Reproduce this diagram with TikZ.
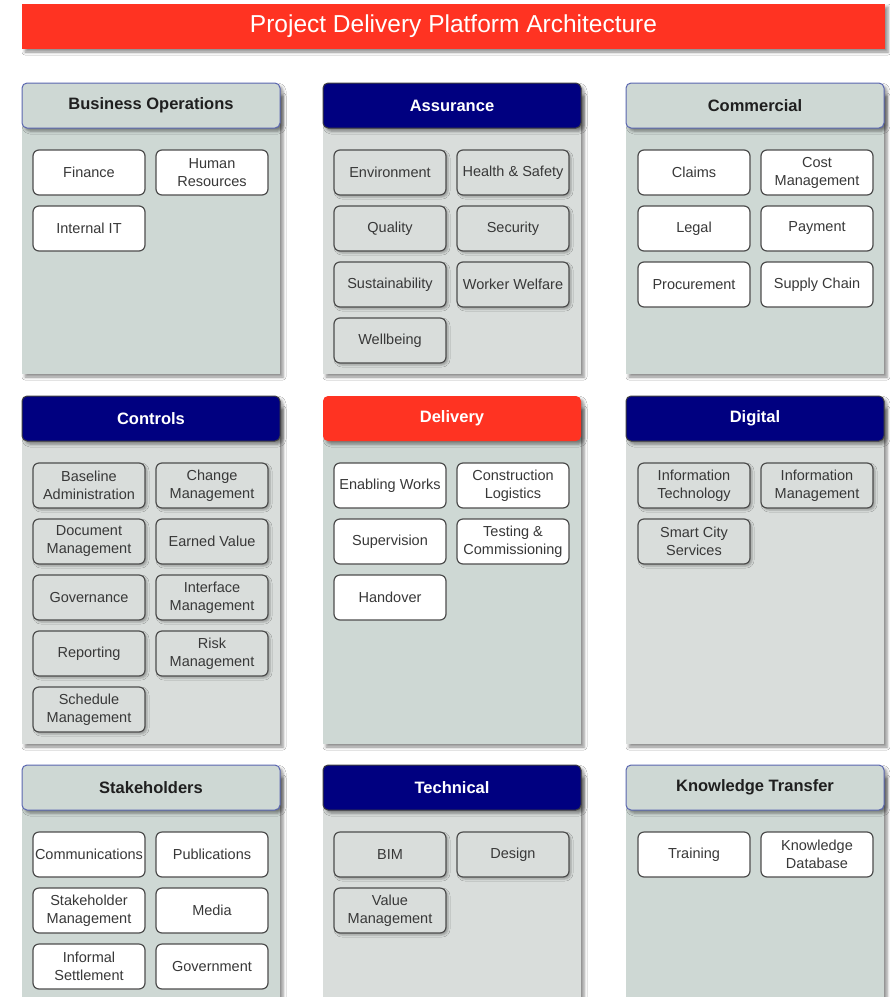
\documentclass[tikz,border=0pt]{standalone}
\usepackage{fontspec}
\setmainfont{Liberation Sans}
\usetikzlibrary{shadows.blur}
\definecolor{titlered}{HTML}{FF3322}
\definecolor{navyhdr}{HTML}{000080}
\definecolor{lightbody}{HTML}{CED8D4}
\definecolor{graybody}{HTML}{D9DDDB}
\definecolor{hdrborder}{HTML}{5A66B0}
\definecolor{boxline}{HTML}{4D4D4D}
\definecolor{boxtext}{HTML}{383838}
\tikzset{
  shd/.style={blur shadow={shadow xshift=3pt,shadow yshift=-3pt,shadow blur radius=3pt,shadow opacity=45}},
  shdsmall/.style={blur shadow={shadow xshift=2pt,shadow yshift=-2pt,shadow blur radius=2pt,shadow opacity=30}},
  titlebar/.style={fill=titlered,text=white,shd,minimum width=863pt,minimum height=45pt,inner sep=0pt,font=\fontsize{24.5}{29}\selectfont},
  hdr/.style={minimum width=258pt,minimum height=45pt,inner sep=0pt,rounded corners=5pt,font=\bfseries\fontsize{16.5}{19}\selectfont,shd},
  hdrlight/.style={hdr,fill=lightbody,draw=hdrborder,line width=1pt,text=black!88},
  hdrnavy/.style={hdr,fill=navyhdr,draw=black!75,line width=1pt,text=white},
  hdrred/.style={hdr,fill=titlered,text=white},
  bodylight/.style={fill=lightbody,shd},
  bodygray/.style={fill=graybody,shd},
  cellbox/.style={minimum width=112pt,minimum height=45pt,inner sep=0pt,rounded corners=6pt,draw=boxline,line width=1.2pt,align=center,font=\fontsize{14.5}{18}\selectfont,text=boxtext},
  whitebox/.style={cellbox,fill=white},
  graybox/.style={cellbox,fill=graybody,shdsmall},
}
\newcommand\panel[7]{%
  \path[#6] (#2,#3+10) rectangle (#2+258,#4);
  \node[#5] (#1) at (#2+129,#3+22.5) {#7};}
\begin{document}
\begin{tikzpicture}[x=1pt,y=-1pt]
\useasboundingbox (0,0) rectangle (890,997);
\clip (0,0) rectangle (890,997);
\fill[white] (0,0) rectangle (890,997);

\node[titlebar] (title) at (453.5,26.5) {Project Delivery Platform Architecture};

% ---- Row 1
\panel{bizops}{22}{83}{374}{hdrlight}{bodylight}{Business Operations}
\node[whitebox] (finance) at (89,172.5) {Finance};
\node[whitebox] (hr) at (212,172.5) {Human\\Resources};
\node[whitebox] (intit) at (89,228.5) {Internal IT};

\panel{assurance}{323}{83}{374}{hdrnavy}{bodygray}{Assurance}
\node[graybox] (env) at (390,172.5) {Environment};
\node[graybox] (hs) at (513,172.5) {Health \& Safety};
\node[graybox] (quality) at (390,228.5) {Quality};
\node[graybox] (security) at (513,228.5) {Security};
\node[graybox] (sustain) at (390,284.5) {Sustainability};
\node[graybox] (welfare) at (513,284.5) {Worker Welfare};
\node[graybox] (wellbeing) at (390,340.5) {Wellbeing};

\panel{commercial}{626}{83}{374}{hdrlight}{bodylight}{Commercial}
\node[whitebox] (claims) at (694,172.5) {Claims};
\node[whitebox] (cost) at (817,172.5) {Cost\\Management};
\node[whitebox] (legal) at (694,228.5) {Legal};
\node[whitebox] (payment) at (817,228.5) {Payment};
\node[whitebox] (procure) at (694,284.5) {Procurement};
\node[whitebox] (supply) at (817,284.5) {Supply Chain};

% ---- Row 2
\panel{controls}{22}{396}{744}{hdrnavy}{bodygray}{Controls}
\node[graybox] (baseline) at (89,485.5) {Baseline\\Administration};
\node[graybox] (change) at (212,485.5) {Change\\Management};
\node[graybox] (docmgmt) at (89,541.5) {Document\\Management};
\node[graybox] (earned) at (212,541.5) {Earned Value};
\node[graybox] (gov) at (89,597.5) {Governance};
\node[graybox] (interface) at (212,597.5) {Interface\\Management};
\node[graybox] (reporting) at (89,653.5) {Reporting};
\node[graybox] (risk) at (212,653.5) {Risk\\Management};
\node[graybox] (schedule) at (89,709.5) {Schedule\\Management};

\panel{delivery}{323}{396}{744}{hdrred}{bodylight}{Delivery}
\node[whitebox] (enabling) at (390,485.5) {Enabling Works};
\node[whitebox] (conlog) at (513,485.5) {Construction\\Logistics};
\node[whitebox] (superv) at (390,541.5) {Supervision};
\node[whitebox] (testing) at (513,541.5) {Testing \&\\Commissioning};
\node[whitebox] (handover) at (390,597.5) {Handover};

\panel{digital}{626}{396}{744}{hdrnavy}{bodygray}{Digital}
\node[graybox] (infotech) at (694,485.5) {Information\\Technology};
\node[graybox] (infomgmt) at (817,485.5) {Information\\Management};
\node[graybox] (smartcity) at (694,541.5) {Smart City\\Services};

% ---- Row 3
\panel{stakeholders}{22}{765}{1010}{hdrlight}{bodylight}{Stakeholders}
\node[whitebox] (comms) at (89,854.5) {Communications};
\node[whitebox] (pubs) at (212,854.5) {Publications};
\node[whitebox] (stakemgmt) at (89,910.5) {Stakeholder\\Management};
\node[whitebox] (media) at (212,910.5) {Media};
\node[whitebox] (informal) at (89,966.5) {Informal\\Settlement};
\node[whitebox] (govt) at (212,966.5) {Government};

\panel{technical}{323}{765}{1010}{hdrnavy}{bodygray}{Technical}
\node[graybox] (bim) at (390,854.5) {BIM};
\node[graybox] (design) at (513,854.5) {Design};
\node[graybox] (valuemgmt) at (390,910.5) {Value\\Management};

\panel{knowledge}{626}{765}{1010}{hdrlight}{bodylight}{Knowledge Transfer}
\node[whitebox] (training) at (694,854.5) {Training};
\node[whitebox] (kdb) at (817,854.5) {Knowledge\\Database};
\end{tikzpicture}
\end{document}
